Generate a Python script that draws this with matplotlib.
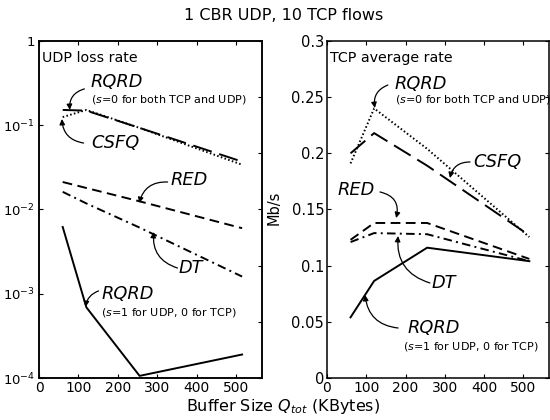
import matplotlib
matplotlib.use('Agg')
import matplotlib.pyplot as plt
import numpy as np

# buffer sizes (KBytes)
buffer_kb = [60, 120, 255, 515]

# UDP loss rate (left panel)
loss_rqrd_s0 = [0.125, 0.152, 0.093, 0.034]
loss_csfq = [0.152, 0.149, 0.093, 0.037]
loss_red = [0.0212, 0.018, 0.0125, 0.006]
loss_dt = [0.0162, 0.0118, 0.0061, 0.0016]
loss_rqrd_s1 = [6.2e-3, 6.9e-4, 1.06e-4, 1.9e-4]

# TCP average rate, Mb/s (right panel)
rate_rqrd_s0 = [0.191, 0.240, 0.204, 0.1255]
rate_csfq = [0.200, 0.218, 0.189, 0.127]
rate_red = [0.123, 0.138, 0.138, 0.106]
rate_dt = [0.121, 0.129, 0.128, 0.104]
rate_rqrd_s1 = [0.054, 0.0864, 0.116, 0.104]

log_ticks = [1e-4, 1e-3, 1e-2, 1e-1, 1]
log_labels = [r'10$^{-4}$', r'10$^{-3}$', r'10$^{-2}$', r'10$^{-1}$', '1']
rate_ticks = [0, 0.05, 0.1, 0.15, 0.2, 0.25, 0.3]
rate_labels = ['0', '0.05', '0.1', '0.15', '0.2', '0.25', '0.3']
x_ticks = [0, 100, 200, 300, 400, 500]

plt.rcParams['font.family'] = ['DejaVu Sans']
plt.rcParams['axes.linewidth'] = 1.1

LW = 1.4
styles = {
    'rqrd0': dict(dashes=(0.8, 1.2)),
    'csfq': dict(dashes=(10, 4)),
    'red': dict(dashes=(5, 2.8)),
    'dt': dict(dashes=(4.4, 2.2, 1.0, 2.2)),
    'rqrd1': dict(linestyle='-'),
}


def style_axes(ax):
    ax.set_xlim(0, 565)
    ax.set_xticks(x_ticks)
    ax.tick_params(direction='in', top=True, length=3, width=0.8, labelsize=10, pad=2)
    ax.tick_params(axis='y', labelsize=10.5)
    ax.minorticks_off()


def note(ax, xy, xytext, rad):
    ax.annotate('', xy=xy, xytext=xytext,
                arrowprops=dict(arrowstyle='-|>', lw=0.9, color='black', mutation_scale=8,
                                shrinkA=0, shrinkB=0,
                                connectionstyle=f'arc3,rad={rad}'))


fig = plt.figure(figsize=(5.5, 4.2), dpi=100)
ax1 = fig.add_axes([0.071, 0.1, 0.405, 0.8024])
ax2 = fig.add_axes([0.5945, 0.1, 0.4036, 0.8024])

# left panel
ax1.set_yscale('log')
ax1.plot(buffer_kb, loss_rqrd_s0, color='black', lw=LW, **styles['rqrd0'])
ax1.plot(buffer_kb, loss_csfq, color='black', lw=LW, **styles['csfq'])
ax1.plot(buffer_kb, loss_red, color='black', lw=LW, **styles['red'])
ax1.plot(buffer_kb, loss_dt, color='black', lw=LW, **styles['dt'])
ax1.plot(buffer_kb, loss_rqrd_s1, color='black', lw=LW, **styles['rqrd1'])
ax1.set_ylim(1e-4, 1)
style_axes(ax1)
ax1.set_yticks(log_ticks)
ax1.set_yticklabels(log_labels)
ax1.tick_params(axis='y', which='minor', left=False, right=False)
ax1.tick_params(axis='y', pad=3, labelsize=9.5)
# linear ticks on the right spine, like the original
ax1r = ax1.twinx()
ax1r.set_ylim(0, 0.3)
ax1r.set_yticks(rate_ticks)
ax1r.set_yticklabels([])
ax1r.tick_params(direction='in', length=3, width=0.8)

ax1.text(0.015, 0.95, 'UDP loss rate', transform=ax1.transAxes, fontsize=10.3, va='center')

# annotations, left
ax1.text(131, 0.326, 'RQRD', style='italic', fontsize=12.8, va='center')
ax1.text(133, 0.1995, r'($s$=0 for both TCP and UDP)', fontsize=8, va='center')
note(ax1, (78, 0.152), (115, 0.27), 0.4)
ax1.text(133, 0.0615, 'CSFQ', style='italic', fontsize=12.8, va='center')
note(ax1, (58, 0.1186), (113, 0.0615), -0.4)
ax1.text(334, 0.0224, 'RED', style='italic', fontsize=12.8, va='center')
note(ax1, (254, 0.01194), (326, 0.0212), 0.4)
ax1.text(354, 2.02e-3, 'DT', style='italic', fontsize=12.8, va='center')
note(ax1, (291, 5.41e-3), (351, 2.02e-3), -0.4)
ax1.text(158, 9.93e-4, 'RQRD', style='italic', fontsize=12.8, va='center')
ax1.text(158, 6.07e-4, r'($s$=1 for UDP, 0 for TCP)', fontsize=8, va='center')
note(ax1, (118, 6.97e-4), (151, 1.08e-3), 0.3)

# right panel
ax2.plot(buffer_kb, rate_rqrd_s0, color='black', lw=LW, **styles['rqrd0'])
ax2.plot(buffer_kb, rate_csfq, color='black', lw=LW, **styles['csfq'])
ax2.plot(buffer_kb, rate_red, color='black', lw=LW, **styles['red'])
ax2.plot(buffer_kb, rate_dt, color='black', lw=LW, **styles['dt'])
ax2.plot(buffer_kb, rate_rqrd_s1, color='black', lw=LW, **styles['rqrd1'])
ax2.set_ylim(0, 0.3)
style_axes(ax2)
ax2.set_yticks(rate_ticks)
ax2.set_yticklabels(rate_labels)
ax2.tick_params(right=True)
ax2.set_ylabel('Mb/s', fontsize=10.5)
ax2.yaxis.set_label_coords(-0.205, 0.504)

ax2.text(0.0135, 0.95, 'TCP average rate', transform=ax2.transAxes, fontsize=10.3, va='center')

ax2.text(173, 0.2617, 'RQRD', style='italic', fontsize=12.8, va='center')
ax2.text(173, 0.2475, r'($s$=0 for both TCP and UDP)', fontsize=8, va='center')
note(ax2, (122, 0.2404), (155, 0.2608), 0.4)
ax2.text(372, 0.1923, 'CSFQ', style='italic', fontsize=12.8, va='center')
note(ax2, (313, 0.178), (364, 0.1923), 0.4)
ax2.text(28, 0.1674, 'RED', style='italic', fontsize=12.8, va='center')
note(ax2, (176, 0.1424), (135, 0.1656), -0.5)
ax2.text(267, 0.0846, 'DT', style='italic', fontsize=12.8, va='center')
note(ax2, (181, 0.1264), (262, 0.0846), -0.4)
ax2.text(204, 0.0445, 'RQRD', style='italic', fontsize=12.8, va='center')
ax2.text(193, 0.0276, r'($s$=1 for UDP, 0 for TCP)', fontsize=8, va='center')
note(ax2, (97, 0.0739), (181, 0.0445), -0.4)

fig.text(0.516, 0.964, '1 CBR UDP, 10 TCP flows', fontsize=11.5, ha='center', va='center')
fig.text(0.5155, 1 - 407 / 420, r'Buffer Size $Q_{tot}$ (KBytes)', fontsize=11.5,
         ha='center', va='center')

fig.savefig('out.png', dpi=100)
